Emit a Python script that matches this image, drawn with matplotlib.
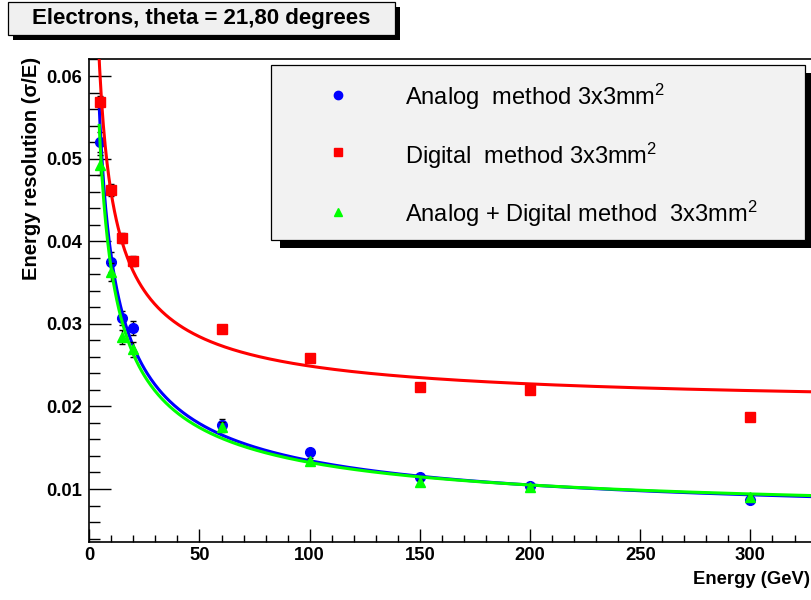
import numpy as np
import matplotlib
matplotlib.use("Agg")
import matplotlib.pyplot as plt
from matplotlib.patches import Rectangle
from matplotlib.lines import Line2D
from matplotlib.ticker import MultipleLocator, FormatStrFormatter

plt.rcParams.update({
    "font.family": ["Liberation Sans", "DejaVu Sans"],
    "font.weight": "bold",
    "axes.labelweight": "bold",
    "mathtext.fontset": "custom",
    "mathtext.rm": "Liberation Sans",
    "mathtext.default": "regular",
})

# Beam energies (GeV) and measured resolution sigma/E for each method
energy = [5, 10, 15, 20, 60, 100, 150, 200, 300]
analog = [0.0520, 0.0375, 0.0307, 0.0295, 0.0178, 0.0145, 0.0115, 0.0104, 0.0087]
analog_err = [0.0012, 0.0012, 0.0009, 0.0009, 0.0007, 0.0004, 0.0003, 0.0003, 0.0003]
digital = [0.0569, 0.0462, 0.0404, 0.0376, 0.0294, 0.0258, 0.0224, 0.0220, 0.0187]
digital_err = [0.0007, 0.0007, 0.0006, 0.0006, 0.0004, 0.0003, 0.0003, 0.0003, 0.0003]
combined = [0.0492, 0.0363, 0.0284, 0.0269, 0.0175, 0.0134, 0.0108, 0.0102, 0.0090]
combined_err = [0.0012, 0.0011, 0.0009, 0.0009, 0.0006, 0.0004, 0.0003, 0.0003, 0.0003]

# Fit parametrisation: sqrt(a^2/E + c^2) + d, with fit range start (GeV)
analog_fit = {"a": 0.1187, "c": 0.00628, "d": 0.0, "emin": 4.5}
digital_fit = {"a": 0.1072, "c": 0.00959, "d": 0.0105, "emin": 3.0}
combined_fit = {"a": 0.1137, "c": 0.00673, "d": 0.0, "emin": 4.5}

legend_labels = [
    "Analog  method 3x3mm$^2$",
    "Digital  method 3x3mm$^2$",
    "Analog + Digital method  3x3mm$^2$",
]
title = "Electrons, theta = 21,80 degrees"


def resolution(e, p):
    return np.sqrt(p["a"] ** 2 / e + p["c"] ** 2) + p["d"]


W, H = 812, 600
fig = plt.figure(figsize=(W / 100, H / 100), dpi=100)


def fx(px):
    return px / W


def fy(py):
    return 1 - py / H


# Frame edges in pixels; the right edge lies just past the canvas
ax_l, ax_r, ax_t, ax_b = 89.3, 830.0, 59.0, 541.7
ax_w, ax_h = ax_r - ax_l, ax_b - ax_t
ax = fig.add_axes([fx(ax_l), fy(ax_b), ax_w / W, ax_h / H])
ax.set_xlim(0, 336.1)
ax.set_ylim(0.00362, 0.06206)

series = [
    (analog, analog_err, analog_fit, "blue", "o", 7.0),
    (digital, digital_err, digital_fit, "red", "s", 6.5),
    (combined, combined_err, combined_fit, "#00ff00", "^", 7.0),
]
for z, (vals, errs, fit, col, mk, ms) in enumerate(series):
    ax.errorbar(energy, vals, yerr=errs, fmt=mk, color=col, ms=ms,
                mec=col, ecolor="black", elinewidth=1.0, capsize=2.5,
                capthick=1.0, zorder=3 + 2 * z)
    e_fine = np.linspace(fit["emin"], 340, 800)
    ax.plot(e_fine, resolution(e_fine, fit), color=col, lw=2.2,
            zorder=4 + 2 * z)

ax.xaxis.set_major_locator(MultipleLocator(50))
ax.xaxis.set_minor_locator(MultipleLocator(10))
ax.yaxis.set_major_locator(MultipleLocator(0.01))
ax.yaxis.set_minor_locator(MultipleLocator(0.002))
ax.yaxis.set_major_formatter(FormatStrFormatter("%.2f"))
ax.tick_params(axis="x", which="major", direction="in", length=9.4,
               width=1.0, labelsize=13.3, pad=3.6)
ax.tick_params(axis="x", which="minor", direction="in", length=5, width=1.0)
ax.tick_params(axis="y", which="major", direction="in", length=15.8,
               width=1.0, labelsize=13.3, pad=5)
ax.tick_params(axis="y", which="minor", direction="in", length=8, width=1.0)
for sp in ax.spines.values():
    sp.set_linewidth(1.2)
ax.spines["right"].set_visible(False)

ax.set_xlabel("Energy (GeV)", fontsize=13.3, loc="right")
ax.xaxis.set_label_coords((810 - ax_l) / ax_w, (ax_b - 571) / ax_h)
ax.set_ylabel("Energy resolution (σ/E)", fontsize=14.5, loc="top")
ax.yaxis.set_label_coords((41.5 - ax_l) / ax_w, (ax_b - 57) / ax_h)


def shadow_box(x0, y0, x1, y1, dx, dy, face):
    fig.add_artist(Rectangle((fx(x0 + dx), fy(y1 + dy)), (x1 - x0) / W,
                             (y1 - y0) / H, transform=fig.transFigure,
                             fc="black", ec="none", zorder=10))
    fig.add_artist(Rectangle((fx(x0), fy(y1)), (x1 - x0) / W, (y1 - y0) / H,
                             transform=fig.transFigure, fc=face, ec="black",
                             lw=0.9, zorder=11))


# Title box
shadow_box(8, 2, 395, 35, 5, 5, "#f0f0f0")
fig.text(fx(201.5), fy(18.5), title, fontsize=16, ha="center", va="center",
         fontweight="bold", zorder=12)

# Legend box
shadow_box(271, 65, 805, 240, 9, 8, "#f2f2f2")
legend_rows = [(95, 105), (152, 164), (212, 222)]
legend_marks = [("o", "blue", 6.0), ("s", "red", 5.5), ("^", "#00ff00", 6.0)]
for (my, ty), (mk, col, ms), lab in zip(legend_rows, legend_marks, legend_labels):
    fig.add_artist(Line2D([fx(338)], [fy(my)], marker=mk, color=col, mec=col,
                          ms=ms, ls="none", transform=fig.transFigure,
                          zorder=12))
    fig.text(fx(405), fy(ty), lab, fontsize=17, fontweight="normal",
             va="baseline", ha="left", zorder=12)

fig.savefig("out.png", dpi=100)
